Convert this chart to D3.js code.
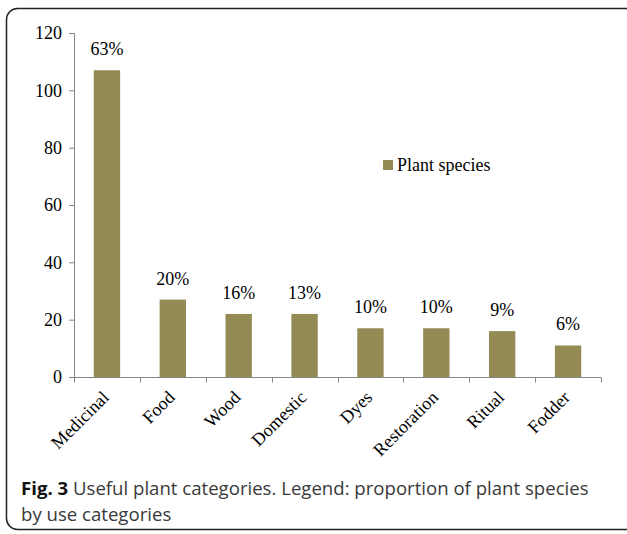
<!DOCTYPE html>
<html>
<head>
<meta charset="utf-8">
<script src="https://cdn.jsdelivr.net/npm/d3@7"></script>
<style>
  body { margin: 0; background: #fff; }
  svg { display: block; }
</style>
</head>
<body>
<svg id="chart" width="627" height="534"></svg>
<script>
var categories = ["Medicinal", "Food", "Wood", "Domestic", "Dyes", "Restoration", "Ritual", "Fodder"];
var species = [107, 27, 22, 22, 17, 17, 16, 11];
var percents = ["63%", "20%", "16%", "13%", "10%", "10%", "9%", "6%"];
var yTicks = [0, 20, 40, 60, 80, 100, 120];
var seriesName = "Plant species";

var svg = d3.select("#chart"),
    barColor = "#948a54", axisColor = "#868686",
    serif = "'Liberation Serif', 'Times New Roman', serif";

// frame around the figure
svg.append("rect")
    .attr("x", 6.5).attr("y", 8.5)
    .attr("width", 640).attr("height", 521)
    .attr("rx", 11)
    .attr("fill", "none")
    .attr("stroke", "#222")
    .attr("stroke-width", 1.5);

var margin = {left: 74, top: 33},
    w = 527, h = 344;

var x = d3.scaleBand().domain(categories).range([0, w]).paddingInner(0.6).paddingOuter(0.3);
var y = d3.scaleLinear().domain([0, 120]).range([h, 0]);

var g = svg.append("g").attr("transform", "translate(" + margin.left + "," + margin.top + ")");

// y axis
var yAxis = g.append("g").attr("class", "axis-y")
    .call(d3.axisLeft(y).tickValues(yTicks).tickSize(5).tickPadding(7));
yAxis.selectAll("line, path").attr("stroke", axisColor);
yAxis.select("path").attr("d", "M0.5," + h + "V0");
yAxis.selectAll("text").attr("font-family", serif).attr("font-size", 18).attr("fill", "#000");

// x axis with ticks at category boundaries
var xg = g.append("g").attr("transform", "translate(0," + (h + 0.5) + ")");
xg.append("line").attr("x1", 0).attr("x2", w).attr("stroke", axisColor);
xg.selectAll(".tick").data(d3.range(categories.length + 1)).enter().append("line")
    .attr("x1", function (d) { return Math.round(d * w / categories.length) + 0.5; })
    .attr("x2", function (d) { return Math.round(d * w / categories.length) + 0.5; })
    .attr("y1", 0).attr("y2", 5)
    .attr("stroke", axisColor);

xg.selectAll(".lbl").data(categories).enter().append("text")
    .attr("font-family", serif).attr("font-size", 18)
    .attr("text-anchor", "end")
    .attr("transform", function (d) {
        return "translate(" + (x(d) + x.bandwidth() / 2 + 3) + ",21) rotate(-45)";
    })
    .text(function (d) { return d; });

// bars
g.selectAll(".bar").data(species).enter().append("rect")
    .attr("x", function (d, i) { return x(categories[i]); })
    .attr("y", function (d) { return y(d); })
    .attr("width", x.bandwidth())
    .attr("height", function (d) { return h - y(d); })
    .attr("fill", barColor);

// percent labels
g.selectAll(".pct").data(species).enter().append("text")
    .attr("x", function (d, i) { return x(categories[i]) + x.bandwidth() / 2; })
    .attr("y", function (d) { return y(d) - 15; })
    .attr("text-anchor", "middle")
    .attr("font-family", serif).attr("font-size", 18)
    .text(function (d, i) { return percents[i]; });

// legend
var lg = svg.append("g").attr("transform", "translate(383,160)");
lg.append("rect").attr("width", 10).attr("height", 10).attr("fill", barColor);
lg.append("text").attr("x", 14).attr("y", 11)
    .attr("font-family", serif).attr("font-size", 18)
    .text(seriesName);

// caption
var cap = svg.append("text")
    .attr("font-family", "'Open Sans', 'Noto Sans', sans-serif")
    .attr("font-size", 18.6).attr("fill", "#3a3a3a");
var l1 = cap.append("tspan").attr("x", 21).attr("y", 495);
l1.append("tspan").attr("font-weight", "bold").attr("fill", "#111").text("Fig. 3");
l1.append("tspan").text(" Useful plant categories. Legend: proportion of plant species");
cap.append("tspan").attr("x", 21).attr("y", 521).text("by use categories");
</script>
</body>
</html>
